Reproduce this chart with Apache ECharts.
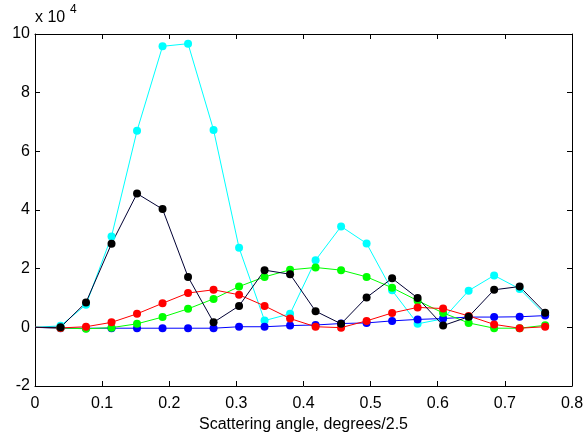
<!DOCTYPE html>
<html>
<head>
<meta charset="utf-8">
<script src="https://cdn.jsdelivr.net/npm/echarts@6/dist/echarts.min.js"></script>
<style>
  html, body { margin: 0; padding: 0; background: #fff; }
  #chart { width: 587px; height: 438px; }
</style>
</head>
<body>
<div id="chart"></div>
<script>
// scattering angle (degrees/2.5); first point is the origin, drawn without a marker
const angles = [0, 0.038, 0.076, 0.114, 0.152, 0.19, 0.228, 0.266, 0.304, 0.342, 0.38,
                0.418, 0.456, 0.494, 0.532, 0.57, 0.608, 0.646, 0.684, 0.722, 0.76];

// intensities, in units of 10^4
const cyanVals  = [0, 0.05, 0.77, 3.1, 6.7, 9.58, 9.67, 6.73, 2.71, 0.23, 0.46,
                   2.29, 3.44, 2.86, 1.26, 0.12, 0.29, 1.25, 1.77, 1.31, 0.43];
const blueVals  = [0, -0.03, -0.03, -0.03, -0.03, -0.03, -0.03, -0.03, 0.02, 0.02, 0.06,
                   0.08, 0.13, 0.15, 0.22, 0.27, 0.3, 0.35, 0.35, 0.36, 0.4];
const greenVals = [0, -0.02, -0.05, -0.01, 0.12, 0.35, 0.63, 0.97, 1.39, 1.72, 1.96,
                   2.04, 1.95, 1.72, 1.35, 0.91, 0.49, 0.15, -0.03, -0.03, 0.07];
const redVals   = [0, -0.02, 0.02, 0.17, 0.46, 0.82, 1.17, 1.28, 1.11, 0.73, 0.3,
                   0.02, -0.01, 0.22, 0.49, 0.68, 0.64, 0.39, 0.1, -0.03, 0.02];
const blackVals = [0, 0.0, 0.85, 2.85, 4.56, 4.03, 1.72, 0.17, 0.73, 1.95, 1.81,
                   0.55, 0.12, 1.02, 1.67, 1.0, 0.06, 0.36, 1.28, 1.39, 0.5];

const xTicks = [0, 0.1, 0.2, 0.3, 0.4, 0.5, 0.6, 0.7, 0.8];
const yTicks = [-2, 0, 2, 4, 6, 8, 10];

const font = 'Liberation Sans, Arial, sans-serif';

function toPoints(vals) {
    return vals.map(function (v, i) {
        if (i === 0) return {value: [angles[i], v], symbol: 'none'};
        return [angles[i], v];
    });
}

function makeSeries(name, vals, lineColor, dotColor) {
    return {
        name: name,
        type: 'line',
        data: toPoints(vals),
        symbol: 'circle',
        symbolSize: 8,
        showAllSymbol: true,
        lineStyle: {color: lineColor, width: 1},
        itemStyle: {color: dotColor || lineColor},
        emphasis: {disabled: true},
        animation: false
    };
}

const axisCommon = {
    type: 'value',
    axisLine: {show: true, onZero: false, lineStyle: {color: '#000', width: 1}},
    axisTick: {show: true, inside: true, length: 5, lineStyle: {color: '#000'}},
    splitLine: {show: false}
};

let chart = echarts.init(document.getElementById('chart'));
chart.setOption({
    backgroundColor: '#fff',
    animation: false,
    grid: {left: 35, top: 34, right: 15, bottom: 52},
    graphic: [{
        type: 'text', left: 35, top: 10,
        style: {text: 'x 10', fontSize: 16, fontFamily: font, fill: '#000'}
    }, {
        type: 'text', left: 70, top: 4,
        style: {text: '4', fontSize: 12, fontFamily: font, fill: '#000'}
    }],
    xAxis: [
        Object.assign({}, axisCommon, {
            min: 0, max: 0.8, interval: 0.1,
            position: 'bottom',
            name: 'Scattering angle, degrees/2.5',
            nameLocation: 'middle',
            nameGap: 28,
            nameTextStyle: {fontFamily: font, fontSize: 16, color: '#000'},
            axisLabel: {
                fontFamily: font, fontSize: 16, color: '#000', margin: 10,
                formatter: function (v) { return xTicks.indexOf(+v.toFixed(1)) >= 0 ? String(+v.toFixed(1)) : ''; }
            }
        }),
        Object.assign({}, axisCommon, {
            min: 0, max: 0.8, interval: 0.1,
            position: 'top',
            axisLabel: {show: false}
        })
    ],
    yAxis: [
        Object.assign({}, axisCommon, {
            min: -2, max: 10, interval: 2,
            position: 'left',
            axisLabel: {
                fontFamily: font, fontSize: 16, color: '#000', margin: 5,
                formatter: function (v) { return yTicks.indexOf(v) >= 0 ? String(v) : ''; }
            }
        }),
        Object.assign({}, axisCommon, {
            min: -2, max: 10, interval: 2,
            position: 'right',
            axisLabel: {show: false}
        })
    ],
    series: [
        makeSeries('cyan', cyanVals, '#00ffff'),
        makeSeries('blue', blueVals, '#0000ff'),
        makeSeries('green', greenVals, '#00ff00'),
        makeSeries('red', redVals, '#ff0000'),
        makeSeries('black', blackVals, '#000033', '#000000')
    ]
});
</script>
</body>
</html>
